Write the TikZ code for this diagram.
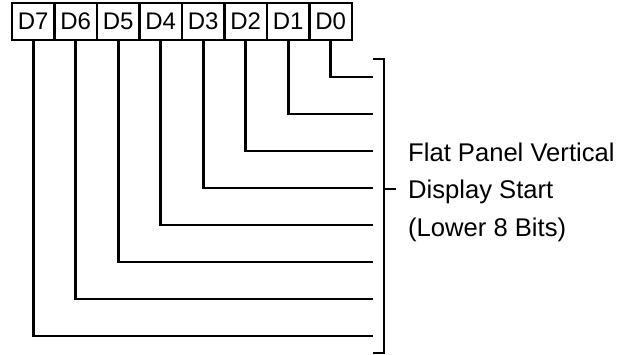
\documentclass[tikz,border=0pt]{standalone}
\usepackage{fontspec}
\setmainfont{Liberation Sans}
\begin{document}
\begin{tikzpicture}[x=1pt,y=1pt,
  bitbox/.style={draw,line width=2.2pt,minimum width=42.5pt,minimum height=37pt,inner sep=0pt,font=\fontsize{24}{24}\selectfont},
  wire/.style={line width=2.8pt},
  lbl/.style={font=\fontsize{25.6}{37.5}\selectfont,align=left,inner sep=0pt,anchor=west}]
\useasboundingbox (0,0) rectangle (626,355);
% boxes (y flipped: ty = 355 - py)
\foreach \b [count=\i from 0] in {7,6,5,4,3,2,1,0}{
  \node[bitbox] (D\b) at ({12+42.5*(\i+0.5)},{355-21.5}) {D\b};
}
% wire end points
\foreach \b/\py in {0/77,1/114,2/151,3/188,4/225,5/262,6/299,7/336}{
  \coordinate (e\b) at (373,{355-\py});
}
\foreach \b in {0,...,7}{
  \draw[wire] (D\b.south) |- (e\b);
}
% bracket
\coordinate (bt) at (373,{355-59});
\coordinate (bb) at (373,{355-353});
\coordinate (bm) at (384,{355-189});
\coordinate (bmt) at (396,{355-189});
\draw[wire,line width=2.4pt] (bt) -- ++(11,0) |- (bb);
\draw[line width=1.8pt] (bm) -- (bmt);
\node[lbl] (txt) at (408,{355-192}) {Flat Panel Vertical\\Display Start\\(Lower 8 Bits)};
\end{tikzpicture}
\end{document}
